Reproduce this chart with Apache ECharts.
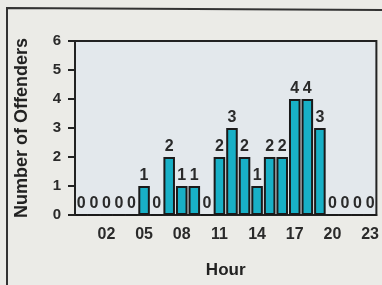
<!DOCTYPE html>
<html>
<head>
<meta charset="utf-8">
<script src="https://cdn.jsdelivr.net/npm/echarts@6/dist/echarts.min.js"></script>
<style>
html,body{margin:0;padding:0;background:#ebebe7;}
#c{width:382px;height:285px;}
</style>
</head>
<body>
<div id="c"></div>
<script>
var hours = ["00","01","02","03","04","05","06","07","08","09","10","11","12","13","14","15","16","17","18","19","20","21","22","23"];
var offenders = [0,0,0,0,0,1,0,2,1,1,0,2,3,2,1,2,2,4,4,3,0,0,0,0];
var yTicks = [0,1,2,3,4,5,6];

var chart = echarts.init(document.getElementById('c'), null, {renderer:'canvas'});
var font = 'Liberation Sans, Arial, sans-serif';
chart.setOption({
  animation:false,
  backgroundColor:'#ebebe7',
  grid:{left:75,right:5,top:41,bottom:70,show:true,borderColor:'#222',borderWidth:2,backgroundColor:'#e3e8ec'},
  graphic:[{type:'polyline',shape:{points:[[7,285],[7,8],[382,10]]},style:{stroke:'#333',lineWidth:2,fill:null}}],
  xAxis:{
    type:'category',data:hours,
    name:'Hour',nameLocation:'middle',nameGap:47,
    nameTextStyle:{fontFamily:font,fontWeight:'bold',fontSize:17,color:'#222'},
    axisLine:{lineStyle:{color:'#222',width:2}},
    axisTick:{alignWithLabel:true,length:7,interval:function(i){return i%3===2;},lineStyle:{color:'#222',width:2}},
    axisLabel:{interval:function(i){return i%3===2;},margin:12,fontFamily:font,fontWeight:'bold',fontSize:16,color:'#2a2a2a'}
  },
  yAxis:{
    type:'value',min:yTicks[0],max:yTicks[yTicks.length-1],interval:1,
    name:'Number of Offenders',nameLocation:'middle',nameGap:44,nameRotate:90,
    nameTextStyle:{fontFamily:font,fontWeight:'bold',fontSize:18,color:'#222'},
    axisLine:{show:true,lineStyle:{color:'#222',width:2}},
    axisTick:{show:true,length:7,lineStyle:{color:'#222',width:2}},
    axisLabel:{margin:14,fontFamily:font,fontWeight:'bold',fontSize:15,color:'#2a2a2a'},
    splitLine:{show:false}
  },
  series:[{
    type:'bar',data:offenders,barCategoryGap:'8%',
    itemStyle:{color:'#18b0c6',borderColor:'#1a1a1a',borderWidth:2},
    label:{show:true,position:'top',distance:2,fontFamily:font,fontWeight:'bold',fontSize:16,color:'#2a2a2a'}
  }]
});
</script>
</body>
</html>
